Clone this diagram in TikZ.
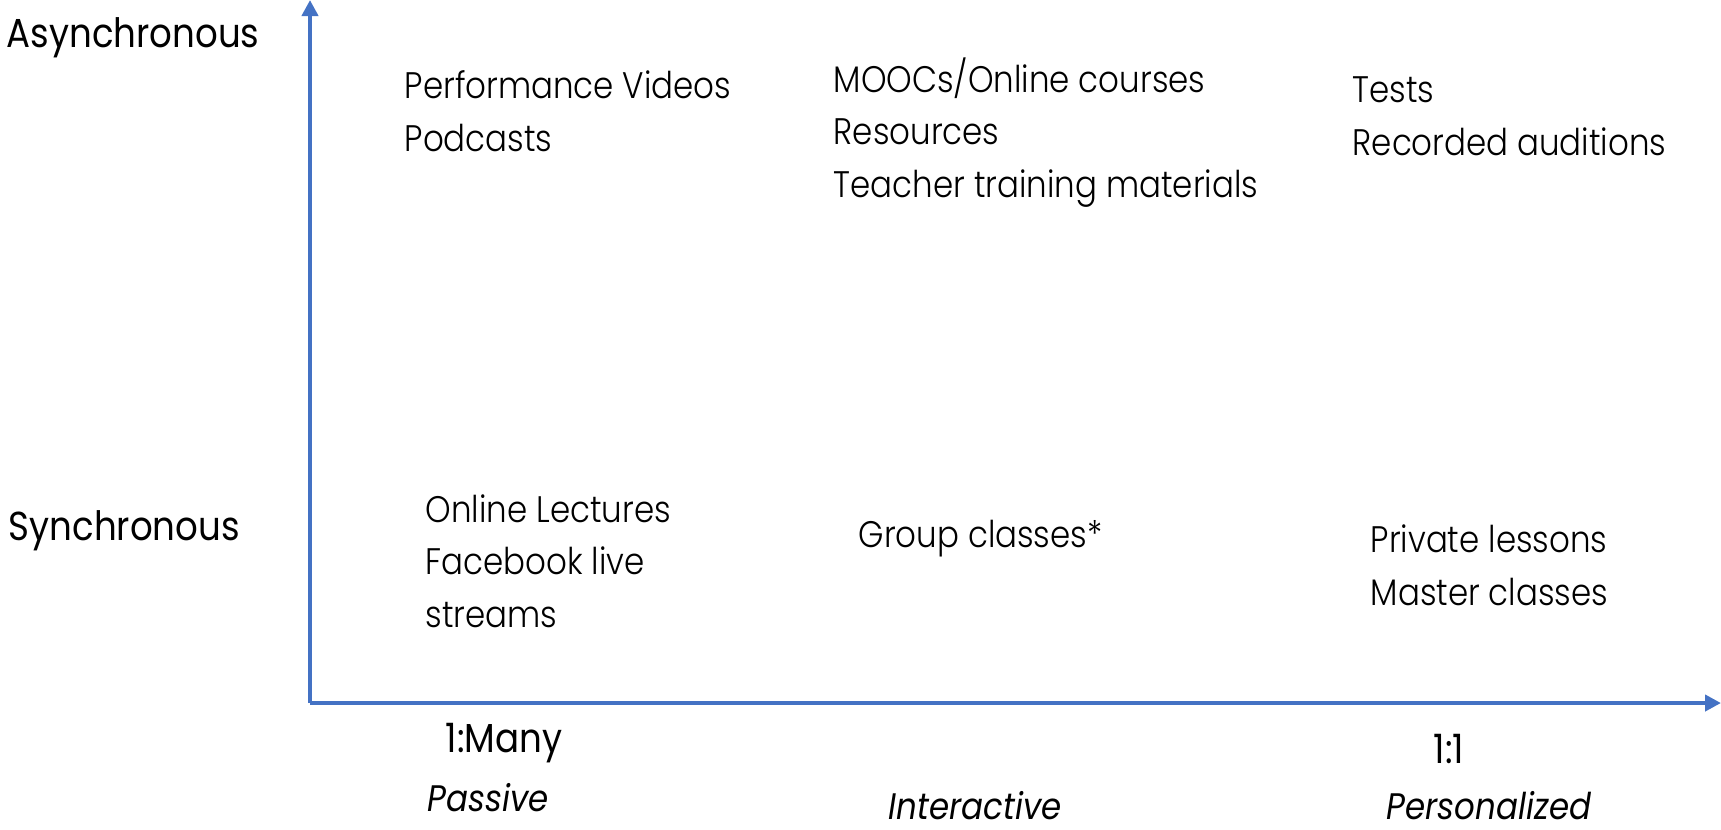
\documentclass[tikz,border=0pt]{standalone}
\usepackage{fontspec}
\setmainfont{Poppins}[FakeStretch=0.88]
\IfFontExistsTF{Poppins Light}
  {\newfontfamily\lightfont{Poppins Light}[FakeStretch=0.88]}
  {\newfontfamily\lightfont{Poppins}[FakeStretch=0.88]}
\usetikzlibrary{arrows.meta}
\definecolor{axisblue}{HTML}{4472C4}
\begin{document}
\begin{tikzpicture}[x=0.01cm,y=-0.01cm,
    axis/.style={draw=axisblue,line width=1.15pt,-{Triangle[length=0.16cm,width=0.16cm]}},
    item/.style={anchor=base west,inner sep=0pt,align=left,font=\lightfont\fontsize{10.5}{14.8}\selectfont},
    side/.style={anchor=base west,inner sep=0pt,font=\fontsize{11.5}{13}\selectfont},
    kind/.style={anchor=base west,inner sep=0pt,font=\fontsize{10.5}{12}\selectfont\itshape}]
    \useasboundingbox (0,0) rectangle (1721,829);
    % axes
    \coordinate (origin) at (310,703);
    \coordinate (ytop) at (310,0);
    \coordinate (xend) at (1721,703);
    \draw[axis] (origin) -- (ytop);
    \draw[axis] (origin) -- (xend);
    % vertical axis labels
    \node[side] (async) at (6,47) {Asynchronous};
    \node[side] (sync) at (8,540) {Synchronous};
    % asynchronous row (placed at the baseline of the last line)
    \node[item] (perf) at (404,151) {Performance Videos\\Podcasts};
    \node[item] (mooc) at (833,197) {MOOCs/Online courses\\Resources\\Teacher training materials};
    \node[item] (tests) at (1352,155) {Tests\\Recorded auditions};
    % synchronous row
    \node[item] (lect) at (425,627) {Online Lectures\\Facebook live\\streams};
    \node[item] (group) at (858,547) {Group classes*};
    \node[item] (priv) at (1370,605) {Private lessons\\Master classes};
    % horizontal axis labels
    \node[side] (many) at (445,752) {1:Many};
    \node[kind] (passive) at (427,811) {Passive};
    \node[kind] (inter) at (888,819) {Interactive};
    \node[side] (one) at (1433,763) {1:1};
    \node[kind] (pers) at (1386,819) {Personalized};
\end{tikzpicture}
\end{document}
